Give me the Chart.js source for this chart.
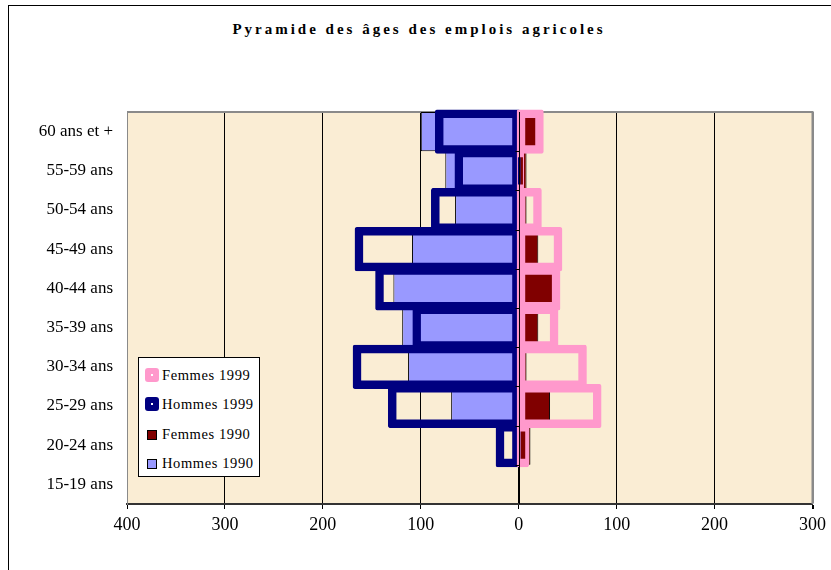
<!DOCTYPE html>
<html lang="fr">
<head>
<meta charset="utf-8">
<title>Pyramide des âges des emplois agricoles</title>
<script src="https://cdn.jsdelivr.net/npm/chart.js@4"></script>
<style>
  html, body { margin: 0; padding: 0; background: #fff; overflow: hidden; }
  #wrap { position: relative; width: 831px; height: 570px; overflow: hidden; }
  #cadre { position: absolute; left: 8px; top: 5px; width: 840px; height: 600px; border: 1px solid #000; }
  #titre { position: absolute; left: 8px; width: 822px; top: 21px; text-align: center;
           font: bold 15px "Liberation Serif", "Times New Roman", serif; letter-spacing: 3px; color: #000; }
  #graph { position: absolute; left: 0; top: 0; }
  #legende { position: absolute; left: 138px; top: 357px; width: 120px; height: 118px; background: #fff;
             border: 1px solid #000; font: 14.5px "Liberation Serif", "Times New Roman", serif; letter-spacing: 0.6px; }
  #legende .item { position: absolute; left: 0; height: 20px; line-height: 20px; white-space: nowrap; }
  #legende .txt { position: absolute; left: 23px; top: 0; }
  #legende .mk { position: absolute; box-sizing: border-box; }
</style>
</head>
<body>
<div id="wrap">
  <div id="cadre"></div>
  <div id="titre">Pyramide des âges des emplois agricoles</div>
  <canvas id="graph" width="831" height="570"></canvas>
  <div id="legende"></div>
</div>
<script>
// effectifs par tranche d'âge (hommes en valeurs positives, passés en négatif pour le graphique)
const ages = ['60 ans et +', '55-59 ans', '50-54 ans', '45-49 ans', '40-44 ans', '35-39 ans', '30-34 ans', '25-29 ans', '20-24 ans', '15-19 ans'];
const hommes1990 = [100, 75, 65, 109, 128, 119, 113, 69, 0, 0];
const femmes1990 = [20, 8, 8, 20, 36, 20, 8, 32, 12, 0];
const hommes1999 = [83, 63, 87, 165, 144, 106, 167, 131, 21, 0];
const femmes1999 = [23, 3, 21, 42, 40, 38, 67, 82, 8, 0];
const graduations = [-400, -300, -200, -100, 0, 100, 200, 300];

const SERIF = '"Liberation Serif", "Times New Roman", serif';
const neg = arr => arr.map(v => -v);

// fond beige de la zone de tracé + bords gris + axe vertical du zéro
const zoneTrace = {
  id: 'zoneTrace',
  beforeDraw(chart) {
    const { ctx, chartArea: a } = chart;
    ctx.save();
    ctx.fillStyle = '#FAEDD4';
    ctx.fillRect(a.left, a.top, a.right - a.left, a.bottom - a.top);
    ctx.restore();
  },
  beforeDatasetsDraw(chart) {
    const { ctx, chartArea: a } = chart;
    ctx.save();
    ctx.strokeStyle = '#8a8a8a';
    ctx.lineWidth = 2;
    ctx.beginPath();
    ctx.moveTo(a.left, a.top); ctx.lineTo(a.right, a.top); ctx.lineTo(a.right, a.bottom);
    ctx.stroke();
    ctx.restore();
  },
  afterDatasetsDraw(chart) {
    const { ctx, chartArea: a, scales } = chart;
    const x0 = Math.round(scales.x.getPixelForValue(0)) + 0.5;
    ctx.save();
    ctx.strokeStyle = '#000';
    ctx.lineWidth = 1;
    ctx.beginPath();
    ctx.moveTo(x0, a.top); ctx.lineTo(x0, a.bottom);
    const step = (a.bottom - a.top) / ages.length;
    for (let i = 1; i < ages.length; i++) {
      const y = Math.round(a.top + i * step) + 0.5;
      ctx.moveTo(x0 - 4, y); ctx.lineTo(x0, y);
    }
    ctx.stroke();
    ctx.restore();
  }
};

// Chart.js dessine le premier jeu de données au-dessus : 1999 en premier
const chart = new Chart(document.getElementById('graph'), {
  type: 'bar',
  data: {
    labels: ages,
    datasets: [
      // contours épais des séries 1999, élargis vers l'extérieur pour être centrés sur la valeur
      { label: 'Femmes 1999', data: femmes1999, backgroundColor: 'rgba(0,0,0,0)', borderColor: '#FF99CC', borderWidth: 3.5, inflateAmount: 2.5, borderRadius: 2, clip: false },
      { label: 'Hommes 1999', data: neg(hommes1999), backgroundColor: 'rgba(0,0,0,0)', borderColor: '#000080', borderWidth: 3.5, inflateAmount: 2.5, borderRadius: 2, clip: false },
      { label: 'Femmes 1990', data: femmes1990, backgroundColor: '#800000', borderColor: '#000', borderWidth: 1, inflateAmount: 0 },
      { label: 'Hommes 1990', data: neg(hommes1990), backgroundColor: '#9999FF', borderColor: '#000', borderWidth: 1, inflateAmount: 0 }
    ]
  },
  options: {
    indexAxis: 'y',
    responsive: false,
    devicePixelRatio: 1,
    animation: false,
    layout: { padding: { left: 0, right: 15, top: 112, bottom: 26 } },
    datasets: { bar: { grouped: false, barPercentage: 1, categoryPercentage: 1, borderSkipped: false } },
    plugins: { legend: { display: false }, title: { display: false }, tooltip: { enabled: false } },
    scales: {
      x: {
        min: graduations[0], max: graduations[graduations.length - 1],
        afterBuildTicks: s => { s.ticks = graduations.map(v => ({ value: v })); },
        afterFit: s => { s.height = 40; },
        ticks: { callback: v => Math.abs(v), color: '#000', font: { family: SERIF, size: 18 }, padding: 5, maxRotation: 0 },
        grid: {
          color: c => (c.tick && (c.tick.value === graduations[0] || c.tick.value === graduations[graduations.length - 1])) ? '#8a8a8a' : '#000',
          lineWidth: c => (c.tick && c.tick.value === graduations[graduations.length - 1]) ? 2 : 1,
          tickColor: '#000', tickLength: 5
        },
        border: { color: '#333', width: 2 }
      },
      y: {
        afterFit: s => { s.width = 127; },
        ticks: { color: '#000', font: { family: SERIF, size: 17 }, padding: 14 },
        grid: { display: false, drawTicks: false },
        border: { color: '#8a8a8a', width: 1 }
      }
    }
  },
  plugins: [zoneTrace]
});

// légende dans la zone de tracé
const leg = document.getElementById('legende');
chart.data.datasets.forEach((ds, i) => {
  const item = document.createElement('div');
  item.className = 'item';
  item.style.top = (7 + i * 29.3) + 'px';
  item.style.width = '100%';
  const mk = document.createElement('span');
  mk.className = 'mk';
  if (ds.inflateAmount > 0) {
    Object.assign(mk.style, { left: '6px', top: '3px', width: '14px', height: '14px', borderRadius: '3px',
      background: ds.borderColor });
    const dot = document.createElement('span');
    Object.assign(dot.style, { position: 'absolute', left: '6px', top: '6px', width: '2px', height: '2px', background: '#fff' });
    mk.appendChild(dot);
  } else {
    Object.assign(mk.style, { left: '8px', top: '6px', width: '10px', height: '10px',
      background: ds.backgroundColor, border: '1.5px solid #000' });
  }
  const txt = document.createElement('span');
  txt.className = 'txt';
  txt.textContent = ds.label;
  item.appendChild(mk);
  item.appendChild(txt);
  leg.appendChild(item);
});
</script>
</body>
</html>
